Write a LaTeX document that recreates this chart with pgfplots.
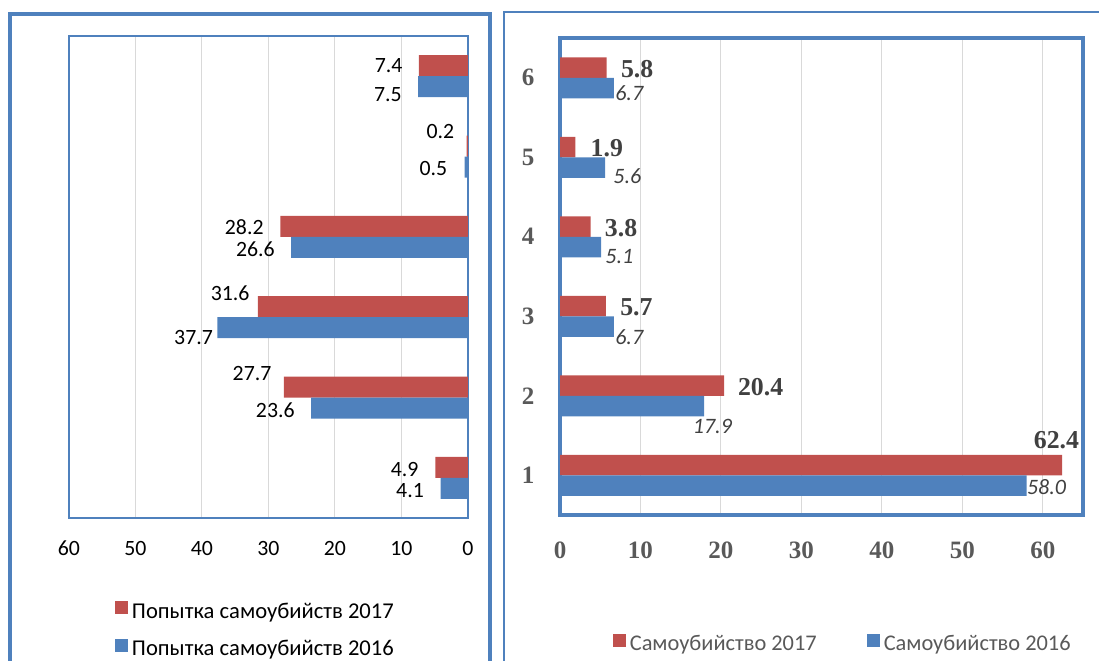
\documentclass[border=0pt]{standalone}
\usepackage{pgfplots}
\pgfplotsset{compat=1.18}
\usepackage{pgfplotstable}
\usepackage{fontspec}
\setmainfont{Carlito}
\newfontfamily\serifnum{Liberation Serif}

\definecolor{cred}{HTML}{C0504D}
\definecolor{cblue}{HTML}{4F81BD}
\definecolor{cgrid}{HTML}{D9D9D9}
\definecolor{cframe}{HTML}{4F81BD}
\definecolor{ctxt}{HTML}{595959}
\definecolor{cdark}{HTML}{404040}

% left panel: attempts (c = row from bottom, dx/dy = label offsets in pt)
\pgfplotstableread{
c v    lab  dx    dy
1 4.9  4.9  -8.25 -1
2 27.7 27.7 -6    7
3 31.6 31.6 -4    6.5
4 28.2 28.2 -8.25 -0.35
5 0.2  0.2  -6    7.25
6 7.4  7.4  -8    0
}\attA
\pgfplotstableread{
c v    lab  dx    dy
1 4.1  4.1  -8.25 -1
2 23.6 23.6 -8    -1
3 37.7 37.7 -2    -5
4 26.6 26.6 -8    -1
5 0.5  0.5  -8.5  -0.5
6 7.5  7.5  -8    -4
}\attB
% right panel: suicides
\pgfplotstableread{
c v    lab  dx    dy
1 62.4 62.4 -14.3 12.5
2 20.4 20.4 6.75  -0.75
3 5.7  5.7  7     -0.5
4 3.8  3.8  7     -0.75
5 1.9  1.9  7.5   -0.5
6 5.8  5.8  7     -0.75
}\suiA
\pgfplotstableread{
c v    lab  dx    dy
1 58.0 58.0 0     -1
2 17.9 17.9 -5.75 -10.25
3 6.7  6.7  0.5   -5.25
4 5.1  5.1  2     -4.5
5 5.6  5.6  4     -4.25
6 6.7  6.7  0.5   -2.5
}\suiB

\begin{document}
\begin{tikzpicture}
\path[use as bounding box] (0,0) rectangle (549.5pt,-330pt);
\draw[cframe, line width=2pt] (4.75pt,-340pt) -- (4.75pt,-6.75pt) -- (244.75pt,-6.75pt) -- (244.75pt,-340pt);
\draw[cframe, line width=0.75pt] (252pt,-340pt) -- (252pt,-6pt) -- (560pt,-6pt);

\begin{axis}[
  at={(34.5pt,-259pt)}, anchor=south west,
  scale only axis, width=199.5pt, height=241pt,
  xbar, bar width=10.5pt, x dir=reverse,
  xmin=0, xmax=60, ymin=0.5, ymax=6.5,
  xtick={0,10,...,60}, ytick=\empty,
  major tick length=0pt,
  xmajorgrids, grid style={cgrid, line width=0.5pt},
  axis line style={cframe, line width=0.75pt},
  tick label style={font=\fontsize{10.9}{12}\selectfont, /pgf/number format/assume math mode=true},
  xticklabel style={yshift=-8pt},
  legend cell align=left,
  legend image code/.code={\fill[#1] (0pt,-1pt) rectangle (6.5pt,5.5pt);},
  legend style={at={(axis description cs:0.1153,-0.2345)}, anchor=west, draw=none, fill=none,
    inner sep=0pt, outer sep=0pt, row sep=5.5pt, font=\fontsize{11.3}{13}\selectfont},
  point meta=explicit symbolic,
  visualization depends on={\thisrow{dx}\as\dx},
  visualization depends on={\thisrow{dy}\as\dy},
  nodes near coords,
  nodes near coords style={anchor=east, inner sep=0pt, xshift=\dx pt, yshift=\dy pt,
    font=\fontsize{10.9}{12}\selectfont, text=black},
]
\addplot[fill=cred, draw=none, bar shift=5.25pt] table[x=v, y=c, meta=lab] {\attA};
\addplot[fill=cblue, draw=none, bar shift=-5.25pt] table[x=v, y=c, meta=lab] {\attB};
\legend{Попытка самоубийств 2017, Попытка самоубийств 2016}
\end{axis}

\begin{axis}[
  at={(280pt,-257.5pt)}, anchor=south west,
  scale only axis, width=261.5pt, height=238.5pt,
  xbar, bar width=10.25pt,
  xmin=0, xmax=65, ymin=0.5, ymax=6.5,
  xtick={0,10,...,60}, ytick={1,...,6},
  major tick length=0pt,
  xmajorgrids, grid style={cgrid, line width=0.5pt},
  axis line style={cframe, line width=2pt},
  tick label style={font=\serifnum\bfseries\fontsize{12.5}{14}\selectfont, text=ctxt,
    /pgf/number format/assume math mode=true},
  xticklabel style={yshift=-9.8pt},
  yticklabel style={xshift=-9.3pt},
  legend columns=2,
  legend image code/.code={\fill[#1] (0pt,-1pt) rectangle (6.5pt,5.5pt);},
  legend style={at={(axis description cs:0.101,-0.272)}, anchor=west, draw=none, fill=none,
    inner sep=0pt, outer sep=0pt, font=\fontsize{11.2}{13}\selectfont, text=ctxt,
    /tikz/every even column/.append style={column sep=23pt}},
  point meta=explicit symbolic,
  visualization depends on={\thisrow{dx}\as\dx},
  visualization depends on={\thisrow{dy}\as\dy},
  nodes near coords,
]
\addplot[fill=cred, draw=none, bar shift=5.125pt,
  nodes near coords style={anchor=west, inner sep=0pt, xshift=\dx pt, yshift=\dy pt,
    font=\serifnum\bfseries\fontsize{12.9}{14}\selectfont, text=cdark}]
  table[x=v, y=c, meta=lab] {\suiA};
\addplot[fill=cblue, draw=none, bar shift=-5.125pt,
  nodes near coords style={anchor=west, inner sep=0pt, xshift=\dx pt, yshift=\dy pt,
    font=\itshape\fontsize{11}{13}\selectfont, text=cdark}]
  table[x=v, y=c, meta=lab] {\suiB};
\legend{Самоубийство 2017, Самоубийство 2016}
\end{axis}
\end{tikzpicture}
\end{document}
